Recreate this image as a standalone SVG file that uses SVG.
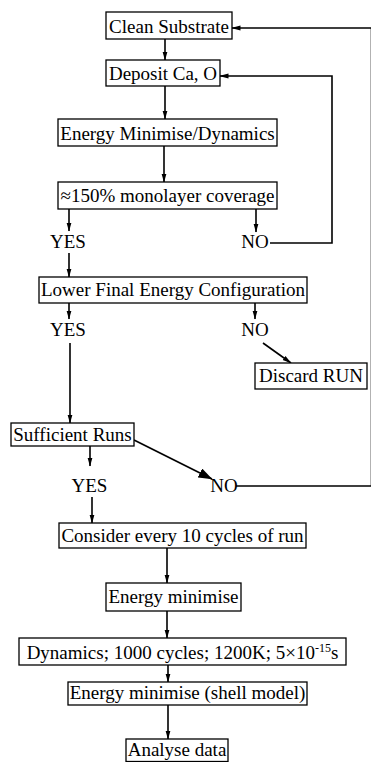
<svg xmlns="http://www.w3.org/2000/svg" width="371" height="762" viewBox="0 0 371 762">
<defs>
<marker id="ah" markerUnits="userSpaceOnUse" markerWidth="9" markerHeight="6" refX="8.5" refY="3" orient="auto">
<path d="M0,0.5 L9,3 L0,5.5 Z" fill="#000"/>
</marker>
<marker id="ahb" markerUnits="userSpaceOnUse" markerWidth="14" markerHeight="10" refX="13.5" refY="5" orient="auto">
<path d="M0,0 L14,5 L0,10 Z" fill="#000"/>
</marker>
</defs>
<style>
rect{fill:#fff;stroke:#000;stroke-width:1.3}
text{font-family:"Liberation Serif","Times New Roman",serif;font-size:19px;fill:#000;text-anchor:middle}
.c{fill:none;stroke:#000;stroke-width:1.6}
.a{marker-end:url(#ah)}
.b{marker-end:url(#ahb)}
</style>
<rect x="0" y="0" width="371" height="762" style="stroke:none;fill:#fff"/>
<g id="connectors">
<line class="c a" x1="165" y1="39" x2="165" y2="60"/>
<line class="c a" x1="165" y1="86" x2="165" y2="119"/>
<line class="c a" x1="164" y1="146" x2="164" y2="182"/>
<line class="c a" x1="69" y1="209" x2="69" y2="231"/>
<line class="c a" x1="256" y1="209" x2="256" y2="232"/>
<polyline class="c a" points="270,243 332,243 332,76 220,76"/>
<line class="c a" x1="69" y1="253" x2="69" y2="277"/>
<line class="c a" x1="69" y1="303" x2="69" y2="319"/>
<line class="c a" x1="255" y1="303" x2="255" y2="319"/>
<line class="c a" x1="263" y1="343" x2="291" y2="363"/>
<line class="c a" x1="70" y1="343" x2="70" y2="423"/>
<line class="c a" x1="90" y1="446" x2="90" y2="466"/>
<line class="c b" x1="134" y1="440" x2="212" y2="479"/>
<line class="c a" x1="92" y1="497" x2="92" y2="523"/>
<polyline class="c a" points="236,486 371.5,486 371.5,28 232,28"/>
<line class="c a" x1="167" y1="548" x2="167" y2="583"/>
<line class="c a" x1="167" y1="611" x2="167" y2="638"/>
<line class="c a" x1="168" y1="665" x2="168" y2="682"/>
<line class="c a" x1="168" y1="705" x2="168" y2="739"/>
</g>
<g id="clean"><rect x="106" y="12" width="126" height="27"/><text x="169" y="32.5">Clean Substrate</text></g>
<g id="deposit"><rect x="106" y="60" width="114" height="26"/><text x="163" y="80">Deposit Ca, O</text></g>
<g id="emd"><rect x="58" y="119" width="219" height="27"/><text x="167.5" y="139.5">Energy Minimise/Dynamics</text></g>
<g id="coverage"><rect x="58" y="182" width="219" height="27"/><text x="167.5" y="202">≈150% monolayer coverage</text></g>
<g id="yes1"><text x="68" y="248">YES</text></g>
<g id="no1"><text x="255" y="248">NO</text></g>
<g id="lower"><rect x="39" y="277" width="268" height="26"/><text x="173" y="296">Lower Final Energy Configuration</text></g>
<g id="yes2"><text x="68" y="336">YES</text></g>
<g id="no2"><text x="255" y="336">NO</text></g>
<g id="discard"><rect x="255" y="363" width="112" height="26"/><text x="311" y="382">Discard RUN</text></g>
<g id="sufficient"><rect x="11" y="423" width="123" height="23"/><text x="72.5" y="441">Sufficient Runs</text></g>
<g id="yes3"><text x="89.5" y="492">YES</text></g>
<g id="no3"><text x="224" y="492">NO</text></g>
<g id="consider"><rect x="59" y="523" width="247" height="25"/><text x="182.5" y="542">Consider every 10 cycles of run</text></g>
<g id="emin"><rect x="106" y="583" width="135" height="28"/><text x="173.5" y="603">Energy minimise</text></g>
<g id="dynamics"><rect x="19" y="638" width="327" height="27"/><text x="182.5" y="659">Dynamics; 1000 cycles; 1200K; 5×10<tspan dy="-7" font-size="12">-15</tspan><tspan dy="7">s</tspan></text></g>
<g id="shell"><rect x="68" y="682" width="239" height="23"/><text x="187.5" y="699">Energy minimise (shell model)</text></g>
<g id="analyse"><rect x="126" y="739" width="102" height="22.5"/><text x="177" y="756">Analyse data</text></g>
</svg>
